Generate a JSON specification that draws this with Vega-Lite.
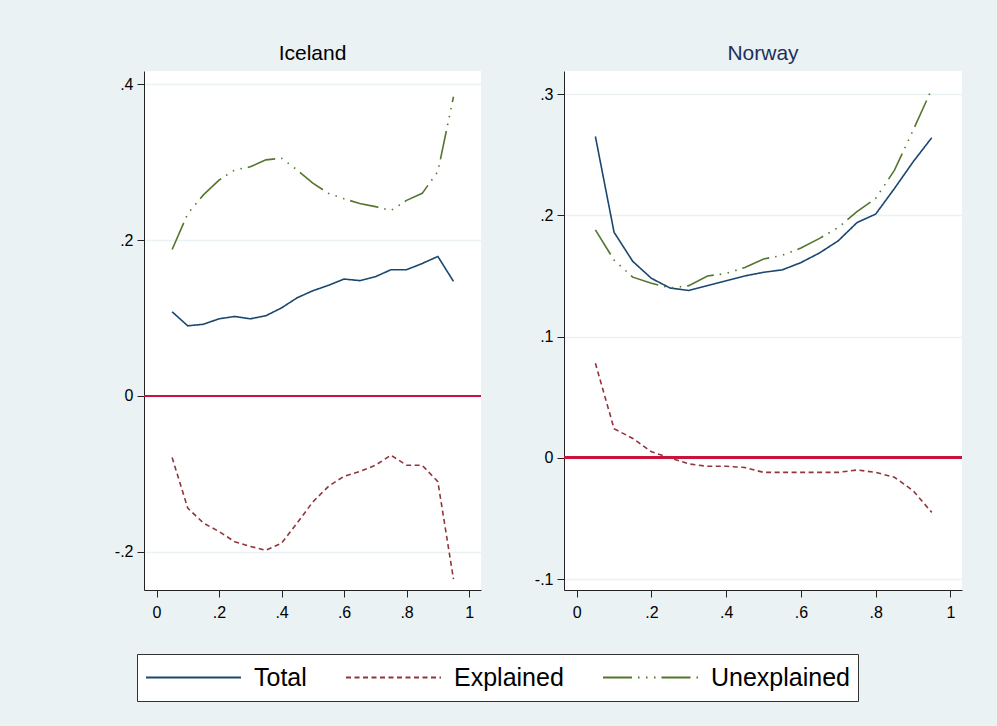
{
  "$schema": "https://vega.github.io/schema/vega-lite/v6.json",
  "background": "#EAF2F3",
  "padding": {"left": 114, "top": 43, "right": 36, "bottom": 25},
  "spacing": 52,
  "config": {
    "font": "Liberation Sans",
    "view": {"fill": "white", "stroke": null},
    "axis": {
      "domainColor": "#222222",
      "domainWidth": 1,
      "tickColor": "#222222",
      "tickSize": 7,
      "labelFontSize": 16,
      "labelColor": "#000000",
      "labelFont": "Liberation Sans",
      "gridColor": "#EAF2F3",
      "gridWidth": 1.5,
      "title": null
    },
    "legend": {
      "orient": "none",
      "legendX": -7,
      "legendY": 583,
      "direction": "horizontal",
      "strokeColor": "#333333",
      "fillColor": "white",
      "padding": 8,
      "clipHeight": 31,
      "labelFontSize": 25,
      "labelFont": "Liberation Sans",
      "labelColor": "#000000",
      "symbolType": "stroke",
      "symbolSize": 9025,
      "symbolStrokeWidth": 2,
      "labelOffset": 12,
      "columnPadding": 38,
      "labelLimit": 300
    },
    "title": {"fontSize": 21, "font": "Liberation Sans", "fontWeight": "normal", "offset": 7}
  },
  "data": {"values": [
    {"country":"Iceland","q":0.05,"series":"Total","value":0.108},
    {"country":"Iceland","q":0.10,"series":"Total","value":0.090},
    {"country":"Iceland","q":0.15,"series":"Total","value":0.092},
    {"country":"Iceland","q":0.20,"series":"Total","value":0.099},
    {"country":"Iceland","q":0.25,"series":"Total","value":0.102},
    {"country":"Iceland","q":0.30,"series":"Total","value":0.099},
    {"country":"Iceland","q":0.35,"series":"Total","value":0.103},
    {"country":"Iceland","q":0.40,"series":"Total","value":0.113},
    {"country":"Iceland","q":0.45,"series":"Total","value":0.126},
    {"country":"Iceland","q":0.50,"series":"Total","value":0.135},
    {"country":"Iceland","q":0.55,"series":"Total","value":0.142},
    {"country":"Iceland","q":0.60,"series":"Total","value":0.150},
    {"country":"Iceland","q":0.65,"series":"Total","value":0.148},
    {"country":"Iceland","q":0.70,"series":"Total","value":0.153},
    {"country":"Iceland","q":0.75,"series":"Total","value":0.162},
    {"country":"Iceland","q":0.80,"series":"Total","value":0.162},
    {"country":"Iceland","q":0.85,"series":"Total","value":0.170},
    {"country":"Iceland","q":0.90,"series":"Total","value":0.179},
    {"country":"Iceland","q":0.95,"series":"Total","value":0.147},
    {"country":"Iceland","q":0.05,"series":"Explained","value":-0.079},
    {"country":"Iceland","q":0.10,"series":"Explained","value":-0.144},
    {"country":"Iceland","q":0.15,"series":"Explained","value":-0.163},
    {"country":"Iceland","q":0.20,"series":"Explained","value":-0.174},
    {"country":"Iceland","q":0.25,"series":"Explained","value":-0.187},
    {"country":"Iceland","q":0.30,"series":"Explained","value":-0.193},
    {"country":"Iceland","q":0.35,"series":"Explained","value":-0.198},
    {"country":"Iceland","q":0.40,"series":"Explained","value":-0.189},
    {"country":"Iceland","q":0.45,"series":"Explained","value":-0.163},
    {"country":"Iceland","q":0.50,"series":"Explained","value":-0.136},
    {"country":"Iceland","q":0.55,"series":"Explained","value":-0.116},
    {"country":"Iceland","q":0.60,"series":"Explained","value":-0.103},
    {"country":"Iceland","q":0.65,"series":"Explained","value":-0.097},
    {"country":"Iceland","q":0.70,"series":"Explained","value":-0.089},
    {"country":"Iceland","q":0.75,"series":"Explained","value":-0.076},
    {"country":"Iceland","q":0.80,"series":"Explained","value":-0.089},
    {"country":"Iceland","q":0.85,"series":"Explained","value":-0.089},
    {"country":"Iceland","q":0.90,"series":"Explained","value":-0.110},
    {"country":"Iceland","q":0.95,"series":"Explained","value":-0.235},
    {"country":"Iceland","q":0.05,"series":"Unexplained","value":0.188},
    {"country":"Iceland","q":0.10,"series":"Unexplained","value":0.234},
    {"country":"Iceland","q":0.15,"series":"Unexplained","value":0.258},
    {"country":"Iceland","q":0.20,"series":"Unexplained","value":0.277},
    {"country":"Iceland","q":0.25,"series":"Unexplained","value":0.290},
    {"country":"Iceland","q":0.30,"series":"Unexplained","value":0.294},
    {"country":"Iceland","q":0.35,"series":"Unexplained","value":0.303},
    {"country":"Iceland","q":0.40,"series":"Unexplained","value":0.305},
    {"country":"Iceland","q":0.45,"series":"Unexplained","value":0.290},
    {"country":"Iceland","q":0.50,"series":"Unexplained","value":0.273},
    {"country":"Iceland","q":0.55,"series":"Unexplained","value":0.260},
    {"country":"Iceland","q":0.60,"series":"Unexplained","value":0.253},
    {"country":"Iceland","q":0.65,"series":"Unexplained","value":0.247},
    {"country":"Iceland","q":0.70,"series":"Unexplained","value":0.243},
    {"country":"Iceland","q":0.75,"series":"Unexplained","value":0.238},
    {"country":"Iceland","q":0.80,"series":"Unexplained","value":0.251},
    {"country":"Iceland","q":0.85,"series":"Unexplained","value":0.260},
    {"country":"Iceland","q":0.90,"series":"Unexplained","value":0.288},
    {"country":"Iceland","q":0.95,"series":"Unexplained","value":0.384},
    {"country":"Norway","q":0.05,"series":"Total","value":0.265},
    {"country":"Norway","q":0.10,"series":"Total","value":0.186},
    {"country":"Norway","q":0.15,"series":"Total","value":0.162},
    {"country":"Norway","q":0.20,"series":"Total","value":0.148},
    {"country":"Norway","q":0.25,"series":"Total","value":0.140},
    {"country":"Norway","q":0.30,"series":"Total","value":0.138},
    {"country":"Norway","q":0.35,"series":"Total","value":0.142},
    {"country":"Norway","q":0.40,"series":"Total","value":0.146},
    {"country":"Norway","q":0.45,"series":"Total","value":0.150},
    {"country":"Norway","q":0.50,"series":"Total","value":0.153},
    {"country":"Norway","q":0.55,"series":"Total","value":0.155},
    {"country":"Norway","q":0.60,"series":"Total","value":0.161},
    {"country":"Norway","q":0.65,"series":"Total","value":0.169},
    {"country":"Norway","q":0.70,"series":"Total","value":0.179},
    {"country":"Norway","q":0.75,"series":"Total","value":0.194},
    {"country":"Norway","q":0.80,"series":"Total","value":0.201},
    {"country":"Norway","q":0.85,"series":"Total","value":0.222},
    {"country":"Norway","q":0.90,"series":"Total","value":0.244},
    {"country":"Norway","q":0.95,"series":"Total","value":0.264},
    {"country":"Norway","q":0.05,"series":"Explained","value":0.078},
    {"country":"Norway","q":0.10,"series":"Explained","value":0.024},
    {"country":"Norway","q":0.15,"series":"Explained","value":0.016},
    {"country":"Norway","q":0.20,"series":"Explained","value":0.005},
    {"country":"Norway","q":0.25,"series":"Explained","value":0.000},
    {"country":"Norway","q":0.30,"series":"Explained","value":-0.005},
    {"country":"Norway","q":0.35,"series":"Explained","value":-0.007},
    {"country":"Norway","q":0.40,"series":"Explained","value":-0.007},
    {"country":"Norway","q":0.45,"series":"Explained","value":-0.008},
    {"country":"Norway","q":0.50,"series":"Explained","value":-0.012},
    {"country":"Norway","q":0.55,"series":"Explained","value":-0.012},
    {"country":"Norway","q":0.60,"series":"Explained","value":-0.012},
    {"country":"Norway","q":0.65,"series":"Explained","value":-0.012},
    {"country":"Norway","q":0.70,"series":"Explained","value":-0.012},
    {"country":"Norway","q":0.75,"series":"Explained","value":-0.010},
    {"country":"Norway","q":0.80,"series":"Explained","value":-0.012},
    {"country":"Norway","q":0.85,"series":"Explained","value":-0.016},
    {"country":"Norway","q":0.90,"series":"Explained","value":-0.027},
    {"country":"Norway","q":0.95,"series":"Explained","value":-0.045},
    {"country":"Norway","q":0.05,"series":"Unexplained","value":0.188},
    {"country":"Norway","q":0.10,"series":"Unexplained","value":0.163},
    {"country":"Norway","q":0.15,"series":"Unexplained","value":0.149},
    {"country":"Norway","q":0.20,"series":"Unexplained","value":0.144},
    {"country":"Norway","q":0.25,"series":"Unexplained","value":0.140},
    {"country":"Norway","q":0.30,"series":"Unexplained","value":0.142},
    {"country":"Norway","q":0.35,"series":"Unexplained","value":0.150},
    {"country":"Norway","q":0.40,"series":"Unexplained","value":0.152},
    {"country":"Norway","q":0.45,"series":"Unexplained","value":0.157},
    {"country":"Norway","q":0.50,"series":"Unexplained","value":0.164},
    {"country":"Norway","q":0.55,"series":"Unexplained","value":0.167},
    {"country":"Norway","q":0.60,"series":"Unexplained","value":0.173},
    {"country":"Norway","q":0.65,"series":"Unexplained","value":0.181},
    {"country":"Norway","q":0.70,"series":"Unexplained","value":0.190},
    {"country":"Norway","q":0.75,"series":"Unexplained","value":0.203},
    {"country":"Norway","q":0.80,"series":"Unexplained","value":0.214},
    {"country":"Norway","q":0.85,"series":"Unexplained","value":0.237},
    {"country":"Norway","q":0.90,"series":"Unexplained","value":0.270},
    {"country":"Norway","q":0.95,"series":"Unexplained","value":0.304}
  ]},
  "hconcat": [
    {
      "width": 337,
      "height": 519,
      "title": {"text": "Iceland", "color": "#000000"},
      "transform": [{"filter": "datum.country === 'Iceland'"}],
      "layer": [
        {
          "mark": {"type": "line", "strokeWidth": 1.6},
          "encoding": {
            "x": {"field": "q", "type": "quantitative", "scale": {"domain": [-0.04, 1.038], "nice": false, "zero": false},
                  "axis": {"values": [0, 0.2, 0.4, 0.6, 0.8, 1], "grid": false, "labelPadding": 7, "labelExpr": "replace(replace(format(datum.value, '.1~f'), '\u2212', '-'), '0.', '.')"}},
            "y": {"field": "value", "type": "quantitative", "scale": {"domain": [-0.249, 0.417], "nice": false, "zero": false},
                  "axis": {"values": [-0.2, 0, 0.2, 0.4], "grid": true, "labelPadding": 4, "minExtent": 30, "maxExtent": 30, "labelExpr": "replace(replace(format(datum.value, '.1~f'), '\u2212', '-'), '0.', '.')"}},
            "color": {"field": "series", "type": "nominal", "title": null,
                      "scale": {"domain": ["Total", "Explained", "Unexplained"], "range": ["#1a476f", "#90353b", "#55752f"]}},
            "strokeDash": {"field": "series", "type": "nominal", "title": null,
                      "scale": {"domain": ["Total", "Explained", "Unexplained"], "range": [[1, 0], [5, 3.5], [29, 6, 1.5, 6.5, 1.5, 6.5, 1.5, 6]]}}
          }
        },
        {
          "mark": {"type": "rule", "color": "#c8143c", "strokeWidth": 2},
          "encoding": {"y": {"datum": 0}}
        }
      ]
    },
    {
      "width": 398,
      "height": 519,
      "title": {"text": "Norway", "color": "#1e2f5e"},
      "transform": [{"filter": "datum.country === 'Norway'"}],
      "layer": [
        {
          "mark": {"type": "line", "strokeWidth": 1.6},
          "encoding": {
            "x": {"field": "q", "type": "quantitative", "scale": {"domain": [-0.034, 1.031], "nice": false, "zero": false},
                  "axis": {"values": [0, 0.2, 0.4, 0.6, 0.8, 1], "grid": false, "labelPadding": 7, "labelExpr": "replace(replace(format(datum.value, '.1~f'), '\u2212', '-'), '0.', '.')"}},
            "y": {"field": "value", "type": "quantitative", "scale": {"domain": [-0.109, 0.319], "nice": false, "zero": false},
                  "axis": {"values": [-0.1, 0, 0.1, 0.2, 0.3], "grid": true, "labelPadding": 4, "minExtent": 30, "maxExtent": 30, "labelExpr": "replace(replace(format(datum.value, '.1~f'), '\u2212', '-'), '0.', '.')"}},
            "color": {"field": "series", "type": "nominal", "title": null,
                      "scale": {"domain": ["Total", "Explained", "Unexplained"], "range": ["#1a476f", "#90353b", "#55752f"]}},
            "strokeDash": {"field": "series", "type": "nominal", "title": null,
                      "scale": {"domain": ["Total", "Explained", "Unexplained"], "range": [[1, 0], [5, 3.5], [29, 6, 1.5, 6.5, 1.5, 6.5, 1.5, 6]]}}
          }
        },
        {
          "mark": {"type": "rule", "color": "#c8143c", "strokeWidth": 2},
          "encoding": {"y": {"datum": 0}}
        }
      ]
    }
  ],
  "resolve": {"scale": {"color": "shared", "strokeDash": "shared", "x": "independent", "y": "independent"}}
}
